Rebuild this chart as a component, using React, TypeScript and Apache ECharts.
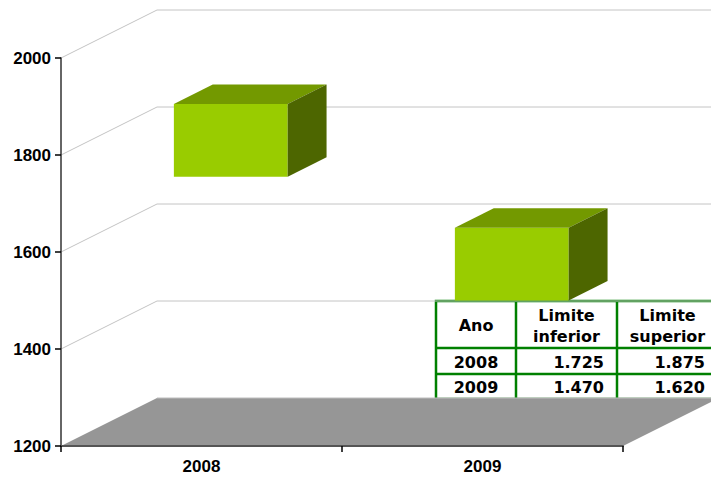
import React, { useEffect, useRef } from "react";
import * as echarts from "echarts";

const CATEGORIES = ["2008", "2009"];
const LOWER = [1725, 1470];
const UPPER = [1875, 1620];
const Y_MIN = 1200;
const Y_MAX = 2000;
const Y_STEP = 200;
const Y_TICKS = [1200, 1400, 1600, 1800, 2000];
const TABLE_HEADERS = ["Ano", "Limite\ninferior", "Limite\nsuperior"];

const DX = 96;
const DY = 48;

function fmt(v: number): string {
  const th = Math.floor(v / 1000);
  const rest = String(v % 1000).padStart(3, "0");
  return th > 0 ? `${th}.${rest}` : String(v);
}

export default function App() {
  const ref = useRef<HTMLDivElement>(null);
  useEffect(() => {
    if (!ref.current) return;
    const chart = echarts.init(ref.current, undefined, { renderer: "svg" });

    const gridData = Y_TICKS.filter((v) => v > Y_MIN).map((v) => [0, v]);
    const barData = CATEGORIES.map((_, i) => [i, LOWER[i], UPPER[i]]);

    // Table geometry (annotation)
    const cols = [436, 516, 617, 718];
    const rows = [301, 348, 374, 399];
    const green = "#008000";
    const tFont = { fontFamily: "DejaVu Sans", fontWeight: "bold" as const, fontSize: 16, fill: "#000" };
    const tableChildren: any[] = [
      { type: "rect", shape: { x: cols[0], y: rows[0], width: cols[3] - cols[0], height: rows[3] - rows[0] }, style: { fill: "#fff", stroke: green, lineWidth: 2.5 } },
    ];
    for (let c = 1; c < 3; c++) {
      tableChildren.push({ type: "line", shape: { x1: cols[c], y1: rows[0], x2: cols[c], y2: rows[3] }, style: { stroke: green, lineWidth: 2.5 } });
    }
    for (let r = 1; r < 3; r++) {
      tableChildren.push({ type: "line", shape: { x1: cols[0], y1: rows[r], x2: cols[3], y2: rows[r] }, style: { stroke: green, lineWidth: 2.5 } });
    }
    TABLE_HEADERS.forEach((h, c) => {
      tableChildren.push({
        type: "text",
        x: (cols[c] + cols[c + 1]) / 2,
        y: (rows[0] + rows[1]) / 2 + 1,
        style: { ...tFont, text: h, align: "center", verticalAlign: "middle", lineHeight: 21 },
      });
    });
    CATEGORIES.forEach((cat, i) => {
      const cy = (rows[i + 1] + rows[i + 2]) / 2 + 1;
      tableChildren.push({ type: "text", x: (cols[0] + cols[1]) / 2, y: cy, style: { ...tFont, text: cat, align: "center", verticalAlign: "middle" } });
      tableChildren.push({ type: "text", x: cols[2] - 13, y: cy, style: { ...tFont, text: fmt(LOWER[i]), align: "right", verticalAlign: "middle" } });
      tableChildren.push({ type: "text", x: cols[3] - 13, y: cy, style: { ...tFont, text: fmt(UPPER[i]), align: "right", verticalAlign: "middle" } });
    });

    const axisFont = { fontFamily: "Liberation Sans", fontWeight: "bold" as const, fontSize: 17, color: "#000" };

    chart.setOption({
      animation: false,
      backgroundColor: "#fff",
      grid: { left: 61, top: 58, width: 562, height: 388, containLabel: false },
      xAxis: {
        type: "category",
        data: CATEGORIES,
        z: 5,
        axisLine: { lineStyle: { color: "#555", width: 2 } },
        axisTick: { show: true, length: 6, lineStyle: { color: "#000", width: 1.5 } },
        axisLabel: { ...axisFont, margin: 12 },
        splitLine: { show: false },
      },
      yAxis: {
        type: "value",
        min: Y_MIN,
        max: Y_MAX,
        interval: Y_STEP,
        z: 5,
        axisLine: { show: true, lineStyle: { color: "#333", width: 1.5 } },
        axisTick: { show: true, length: 6, lineStyle: { color: "#000", width: 1.5 } },
        axisLabel: { ...axisFont, margin: 10, formatter: (v: number) => String(v) },
        splitLine: { show: false },
      },
      series: [
        {
          type: "custom",
          z: 1,
          silent: true,
          data: gridData,
          encode: { x: 0, y: 1 },
          renderItem: (params: any, api: any) => {
            const cs = params.coordSys;
            const y = api.coord([0, api.value(1)])[1];
            return {
              type: "polyline",
              shape: { points: [[cs.x, y], [cs.x + DX, y - DY], [cs.x + cs.width + DX, y - DY]] },
              style: { stroke: "#c4c4c4", lineWidth: 1, fill: "none" },
            };
          },
        },
        {
          type: "custom",
          z: 2,
          silent: true,
          data: [[0, Y_MIN]],
          encode: { x: 0, y: 1 },
          renderItem: (params: any, api: any) => {
            const cs = params.coordSys;
            const y0 = api.coord([0, api.value(1)])[1];
            return {
              type: "group",
              children: [
                {
                  type: "polygon",
                  shape: { points: [[cs.x, y0], [cs.x + DX, y0 - DY], [cs.x + cs.width + DX, y0 - DY], [cs.x + cs.width, y0]] },
                  style: { fill: "#969696" },
                },
                {
                  type: "line",
                  shape: { x1: cs.x + DX, y1: y0 - DY, x2: cs.x + cs.width + DX, y2: y0 - DY },
                  style: { stroke: "#bdbdbd", lineWidth: 1 },
                },
              ],
            };
          },
        },
        {
          type: "custom",
          z: 3,
          data: barData,
          encode: { x: 0, y: [1, 2] },
          renderItem: (params: any, api: any) => {
            const idx = api.value(0);
            const pLo = api.coord([idx, api.value(1)]);
            const pHi = api.coord([idx, api.value(2)]);
            const band = api.size([1, 0])[0];
            const w = band * 0.405;
            const f = 0.305;
            const b = 0.71;
            const x0 = pLo[0] - w / 2 + DX * f;
            const yt = pHi[1] - DY * f;
            const yb = pLo[1] - DY * f;
            const ddx = DX * (b - f);
            const ddy = DY * (b - f);
            return {
              type: "group",
              children: [
                { type: "rect", shape: { x: x0, y: yt, width: w, height: yb - yt }, style: { fill: "#99cc00" } },
                {
                  type: "polygon",
                  shape: { points: [[x0, yt], [x0 + w, yt], [x0 + w + ddx, yt - ddy], [x0 + ddx, yt - ddy]] },
                  style: { fill: "#739900" },
                },
                {
                  type: "polygon",
                  shape: { points: [[x0 + w, yt], [x0 + w + ddx, yt - ddy], [x0 + w + ddx, yb - ddy], [x0 + w, yb]] },
                  style: { fill: "#4d6600" },
                },
              ],
            };
          },
        },
      ],
      graphic: [{ type: "group", z: 100, children: tableChildren }],
    });
    return () => chart.dispose();
  }, []);
  return <div ref={ref} style={{ position: "absolute", left: 0, top: 0, width: 711, height: 478 }} />;
}
